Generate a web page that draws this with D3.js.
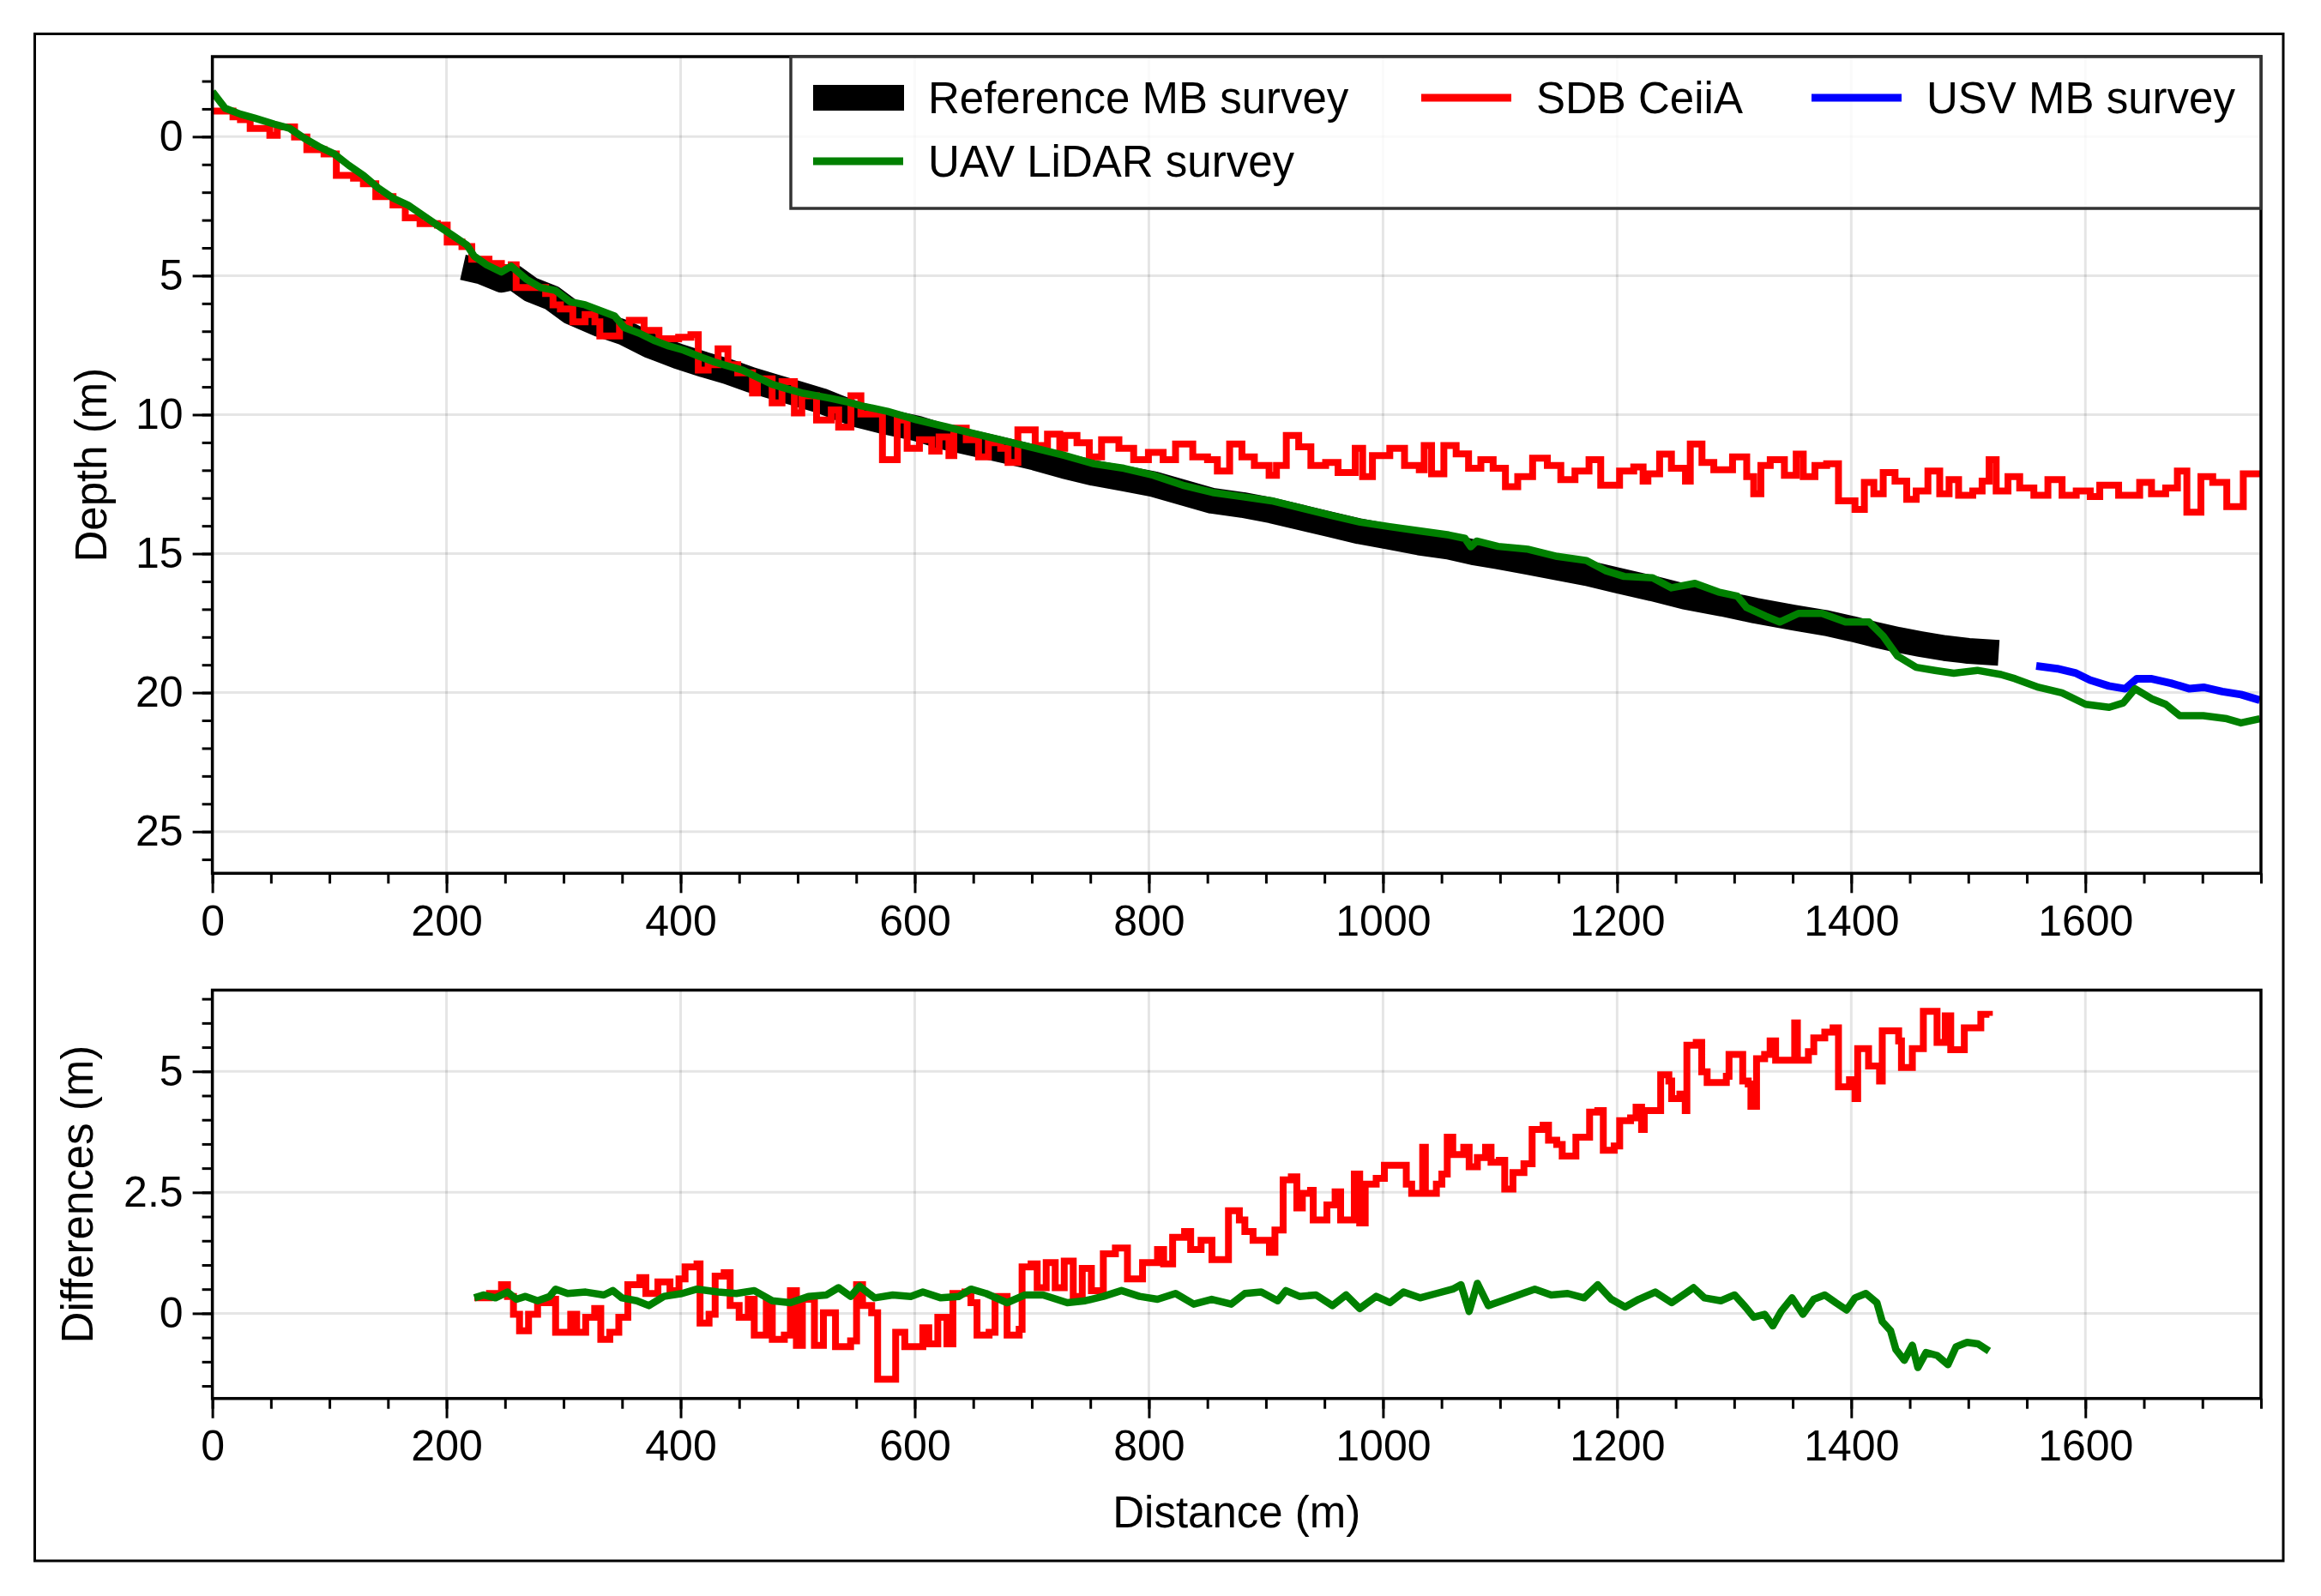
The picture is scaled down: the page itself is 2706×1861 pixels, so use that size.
<!DOCTYPE html>
<html>
<head>
<meta charset="utf-8">
<script src="https://cdn.jsdelivr.net/npm/d3@7"></script>
<style>
  body { margin: 0; background: #fff; }
  text { font-family: "Liberation Sans", Arial, Helvetica, sans-serif; fill: #000; }
  .tick line { stroke: #000; stroke-width: 3; }
  .tick text { font-size: 50px; }
</style>
</head>
<body>
<div id="chart"></div>
<script>
// Reference MB survey (black band)
var refDist = [214, 230, 247, 257, 272, 290, 306, 331, 352, 373, 398, 420, 440, 460, 480, 500, 520, 535, 551, 575,
  602, 625, 652, 678, 703, 728, 753, 779, 804, 829, 854, 880, 905, 930, 955, 980, 1006, 1031, 1056, 1077,
  1098, 1124, 1149, 1174, 1199, 1230, 1258, 1290, 1318, 1350, 1379, 1400, 1419, 1440, 1459, 1480, 1500, 1526];
var refDepth = [4.7, 4.85, 5.15, 5.05, 5.5, 5.8, 6.3, 6.75, 7.05, 7.5, 7.9, 8.2, 8.45, 8.75, 9.0, 9.25, 9.5, 9.75, 10.0, 10.25,
  10.5, 10.8, 11.05, 11.3, 11.55, 11.85, 12.1, 12.3, 12.5, 12.8, 13.1, 13.25, 13.45, 13.7, 13.95, 14.2, 14.4, 14.6, 14.75, 14.95,
  15.1, 15.3, 15.5, 15.7, 15.95, 16.25, 16.55, 16.8, 17.05, 17.3, 17.5, 17.7, 17.9, 18.1, 18.25, 18.4, 18.5, 18.57];

// SDB CeiiA (red, stepped)
var sdbDist = [0, 11.3, 17.6, 24, 32.3, 49.1, 55.4, 70.2, 80.7, 95.4, 105.9, 120.6, 129, 139.6, 154.3, 164.8, 177.4, 192.2, 200.6, 213.2,
  221.6, 236.3, 246.9, 255.3, 259.5, 284.7, 291, 297.3, 307.9, 318.4, 326.8, 331, 347.8, 356.2, 368.8, 381.5, 398.3, 408.8, 415.1, 423.5,
  432, 440.4, 448.8, 461.4, 465.6, 478.2, 486.6, 497.2, 503.5, 516.1, 528.7, 535, 545.5, 554, 572.4, 585, 593.5, 604, 614.5, 620.8,
  629.2, 633.4, 644, 654.5, 662.9, 673.4, 679.7, 688.1, 702.9, 713.4, 723.9, 728.1, 738.6, 749.1, 759.6, 774.4, 787, 799.6, 812.2, 822.8,
  837.5, 850.1, 858.5, 869, 879.5, 890.1, 902.7, 909, 917.4, 928, 938.4, 951, 961.6, 976.3, 982.6, 991, 1005.8, 1018.4, 1031, 1035.2,
  1041.5, 1052, 1062.5, 1073.1, 1083.6, 1094.1, 1104.6, 1115.1, 1127.8, 1140.4, 1151.9, 1164, 1176, 1186, 1202.1, 1214.2, 1222.2, 1226.3, 1236.3, 1246.4,
  1258.4, 1262.5, 1272.5, 1282.6, 1298.6, 1310.7, 1316.7, 1322.8, 1330.8, 1342.9, 1353, 1359, 1369, 1379, 1389.1, 1403.2, 1411.2, 1419.3, 1427.3, 1437.4,
  1447.4, 1455.5, 1465.5, 1475.6, 1483.6, 1491.7, 1503.8, 1511.8, 1517.8, 1523.8, 1533.9, 1543.9, 1556, 1568, 1580.1, 1592.2, 1604.2, 1612.3, 1628.4, 1646.4,
  1656.5, 1668.6, 1678.6, 1686.7, 1698.7, 1708.8, 1720.8, 1734.9, 1750];
var sdbDepth = [-0.92, -0.92, -0.71, -0.61, -0.3, -0.05, -0.35, 0.01, 0.47, 0.62, 1.39, 1.49, 1.69, 2.16, 2.46, 2.92, 3.13, 3.18, 3.79, 3.95,
  4.41, 4.56, 4.71, 4.61, 5.43, 5.64, 6.05, 6.2, 6.66, 6.4, 6.66, 7.17, 6.76, 6.61, 6.97, 7.27, 7.22, 7.12, 8.4, 8.2,
  7.63, 8.2, 8.5, 9.22, 8.71, 9.58, 8.81, 9.94, 9.32, 10.19, 9.83, 10.45, 9.32, 9.98, 11.62, 10.19, 11.21, 10.9, 11.31, 10.8,
  11.47, 10.49, 10.9, 11.52, 11.01, 11.21, 11.72, 10.55, 11.11, 10.7, 11.21, 10.75, 11.01, 11.52, 10.9, 11.21, 11.62, 11.36, 11.62, 11.06,
  11.52, 11.62, 12.03, 11.06, 11.52, 11.83, 12.18, 11.83, 10.75, 11.16, 11.83, 11.72, 12.08, 11.21, 12.23, 11.47, 11.21, 11.83, 11.98, 11.11,
  12.13, 11.11, 11.41, 11.93, 11.62, 11.93, 12.59, 12.23, 11.57, 11.83, 12.34, 12.03, 11.62, 12.54, 12.03, 11.88, 12.39, 12.13, 11.42, 11.93,
  12.39, 11.06, 11.72, 11.98, 11.52, 12.23, 12.85, 11.83, 11.62, 12.18, 11.42, 12.23, 11.83, 11.77, 13.1, 13.41, 12.44, 12.85, 12.08, 12.39,
  13.05, 12.75, 12.03, 12.85, 12.34, 12.9, 12.75, 12.39, 11.62, 12.75, 12.23, 12.64, 12.9, 12.34, 12.9, 12.75, 12.95, 12.54, 12.9, 12.44,
  12.85, 12.64, 12.03, 13.51, 12.23, 12.44, 13.31, 12.13, 12.18];

// USV MB survey (blue)
var usvDist = [1558, 1576, 1592, 1604, 1620, 1634, 1644, 1656, 1673, 1689, 1701, 1717, 1733, 1749];
var usvDepth = [19.04, 19.14, 19.3, 19.55, 19.76, 19.86, 19.5, 19.5, 19.66, 19.86, 19.81, 19.96, 20.07, 20.27];

// UAV LiDAR survey (green)
var uavDist = [0, 11, 24, 36.5, 53, 66, 78.6, 91, 104, 116.5, 129, 141.7, 154.3, 167, 179.5, 192, 204.8, 217.4, 223.7, 234.2,
  246.9, 255.3, 268, 280.5, 293, 305.7, 318.4, 331, 343.6, 352, 364.6, 377.3, 389.9, 402.5, 415, 427.7, 440.4, 453, 465.6, 478.2,
  490.9, 503.5, 516, 528.7, 541.3, 554, 576.6, 601.9, 627, 652.4, 677.6, 702.9, 728.1, 753.3, 778.6, 803.8, 829, 854.3, 879.5, 904.8,
  930, 955.3, 980.5, 1005.8, 1031, 1056.2, 1070, 1075, 1080, 1098.3, 1123.6, 1148.8, 1174, 1190, 1206, 1230.3, 1246.4, 1266.5, 1286.6, 1302.7,
  1310.7, 1326.8, 1338.9, 1354.9, 1375, 1395.1, 1415.2, 1427.3, 1439.4, 1455.5, 1471.5, 1487.6, 1507.7, 1527.9, 1540, 1560, 1580, 1600.2, 1620.3, 1632.4,
  1642.5, 1656.5, 1668.6, 1680.6, 1700.7, 1720.8, 1732.9, 1749];
var uavDepth = [-1.62, -1.02, -0.81, -0.66, -0.45, -0.3, 0.06, 0.36, 0.62, 1.03, 1.39, 1.85, 2.21, 2.46, 2.82, 3.18, 3.54, 3.9, 4.3, 4.61,
  4.87, 4.66, 5.12, 5.43, 5.53, 5.94, 6.05, 6.25, 6.45, 6.87, 7.07, 7.33, 7.53, 7.68, 7.89, 8.09, 8.25, 8.4, 8.66, 8.91,
  9.07, 9.22, 9.32, 9.42, 9.53, 9.68, 9.88, 10.19, 10.44, 10.7, 10.95, 11.21, 11.47, 11.77, 11.93, 12.18, 12.54, 12.8, 12.95, 13.1,
  13.36, 13.62, 13.87, 14.03, 14.18, 14.33, 14.45, 14.75, 14.55, 14.74, 14.84, 15.1, 15.25, 15.61, 15.82, 15.87, 16.23, 16.07, 16.38, 16.53,
  16.94, 17.25, 17.46, 17.15, 17.15, 17.46, 17.46, 17.97, 18.68, 19.09, 19.2, 19.3, 19.2, 19.35, 19.5, 19.81, 20.01, 20.42, 20.53, 20.37,
  19.86, 20.22, 20.42, 20.83, 20.83, 20.94, 21.09, 20.94];

// Differences: SDB (red, stepped)
var diffSdbDist = [223.8, 236.7, 247, 252.1, 257.2, 262.4, 270.1, 277.8, 288.1, 293.2, 306.1, 311.2, 318.9, 326.6, 331.8, 339.5, 347.2, 354.9, 365.2, 370.3,
  380.6, 390.9, 398.6, 403.8, 414, 416.6, 424.3, 429.5, 437.2, 442.3, 450, 457.8, 462.9, 473.2, 478.3, 488.6, 493.8, 498.9, 504, 514.3,
  522, 532.3, 545.2, 550.3, 555.4, 563.2, 568.3, 583.7, 591.5, 606.9, 612, 619.7, 627.5, 632.6, 642.9, 648, 653.2, 663.5, 668.6, 678.9,
  689.2, 691.7, 699.4, 704.6, 712.3, 720, 727.7, 735.4, 743.1, 750.9, 761.1, 771.4, 781.7, 794.6, 807.4, 812.6, 820.3, 830.5, 835.7, 844.6,
  853.9, 868, 877.3, 882, 889, 903, 907.7, 914.7, 921.7, 926.4, 931.1, 938.1, 940.4, 952.1, 959.1, 963.8, 975.5, 980.1, 984.8, 994.2,
  1001.2, 1019.9, 1024.5, 1033.9, 1036.2, 1045.6, 1050.3, 1054.9, 1059.6, 1069, 1073.6, 1080.6, 1087.6, 1092.3, 1099.4, 1104, 1111, 1120.4, 1127.4, 1136.8,
  1141.4, 1148.4, 1153.1, 1164.8, 1176.5, 1183.5, 1188.2, 1197.5, 1202.2, 1211.5, 1216.2, 1220.9, 1223.2, 1237.2, 1244.2, 1246.6, 1253.6, 1258.2, 1259.6, 1267.6,
  1272.3, 1276.9, 1293.3, 1295.6, 1307.3, 1312, 1314.3, 1319.1, 1326, 1330.7, 1335.4, 1351.7, 1354, 1363.4, 1368, 1377.4, 1384.5, 1389.1, 1398.5, 1403.2,
  1405.5, 1414.8, 1424.2, 1426.5, 1440.5, 1442.9, 1452.2, 1461.6, 1473.3, 1480.3, 1485, 1496.6, 1510.7, 1518];
var diffSdbVal = [0.32, 0.41, 0.59, 0.35, -0.02, -0.36, -0.02, 0.22, 0.29, -0.39, -0.02, -0.39, -0.08, 0.1, -0.54, -0.39, -0.08, 0.59, 0.74, 0.41,
  0.65, 0.47, 0.71, 0.96, 1.02, -0.2, -0.02, 0.77, 0.84, 0.16, -0.08, 0.29, -0.45, 0.22, -0.54, -0.45, 0.47, -0.66, 0.29, -0.66,
  0.01, -0.69, -0.57, 0.59, 0.16, 0.01, -1.36, -0.39, -0.69, -0.3, -0.63, -0.08, -0.63, 0.41, 0.44, 0.22, -0.45, -0.39, 0.35, -0.45,
  -0.33, 0.96, 1.02, 0.53, 1.05, 0.53, 1.08, 0.35, 0.93, 0.47, 1.23, 1.35, 0.71, 1.05, 1.32, 1.02, 1.57, 1.69, 1.32, 1.51,
  1.11, 2.12, 1.93, 1.69, 1.51, 1.26, 1.72, 2.76, 2.82, 2.18, 2.48, 2.54, 1.93, 2.24, 2.51, 1.93, 2.88, 1.87, 2.67, 2.79,
  3.06, 2.67, 2.48, 3.43, 2.48, 2.67, 2.88, 3.64, 3.28, 3.43, 3.03, 3.22, 3.43, 3.12, 3.16, 2.57, 2.91, 3.09, 3.8, 3.89,
  3.58, 3.49, 3.25, 3.64, 4.16, 4.19, 3.37, 3.46, 3.98, 4.04, 4.26, 3.8, 4.19, 4.93, 4.8, 4.44, 4.53, 4.19, 5.54, 5.6,
  4.99, 4.77, 4.9, 5.35, 4.8, 4.74, 4.28, 5.26, 5.35, 5.63, 5.23, 6.0, 5.23, 5.41, 5.69, 5.81, 5.9, 4.68, 4.83, 4.44,
  5.47, 5.11, 4.8, 5.84, 5.63, 5.08, 5.47, 6.24, 5.6, 6.15, 5.45, 5.9, 6.18, 6.15];

// Differences: UAV LiDAR (green)
var diffUavDist = [223.8, 231.5, 241.8, 252.1, 259.8, 267.5, 277.8, 288.1, 293.2, 303.5, 318.9, 334.4, 342.1, 349.8, 362.6, 372.9, 385.8, 401.2, 414, 432.1,
  447.5, 462.9, 478.3, 493.8, 509.2, 524.6, 534.9, 545.2, 552.9, 565.7, 581.2, 596.6, 606.9, 622.3, 637.7, 648, 660.9, 678.9, 694.3, 709.7,
  730.3, 745.7, 761.1, 776.6, 792, 807.4, 822.8, 838.3, 853.7, 870.3, 882, 896, 910, 917, 928.7, 942.8, 956.8, 968.5, 980.1, 994.2,
  1005.9, 1017.5, 1031.6, 1045.6, 1059.6, 1066.6, 1073.6, 1080.6, 1090, 1101.7, 1115.7, 1129.7, 1143.7, 1157.8, 1171.8, 1183.5, 1195.1, 1206.8, 1218.5, 1232.6,
  1246.6, 1258.2, 1265.3, 1274.6, 1288.6, 1300.3, 1309.7, 1316.7, 1326, 1333, 1340.1, 1349.4, 1358.7, 1368, 1377.4, 1386.8, 1396.1, 1403.2, 1412.5, 1421.9,
  1426.5, 1433.6, 1438.2, 1445.3, 1452.2, 1456.9, 1463.9, 1473.3, 1482.6, 1489.6, 1499, 1508.3, 1517.7];
var diffUavVal = [0.32, 0.38, 0.32, 0.44, 0.29, 0.35, 0.26, 0.35, 0.5, 0.41, 0.44, 0.38, 0.47, 0.32, 0.26, 0.16, 0.35, 0.41, 0.5, 0.44,
  0.41, 0.47, 0.26, 0.22, 0.35, 0.38, 0.53, 0.35, 0.56, 0.32, 0.38, 0.35, 0.44, 0.32, 0.35, 0.5, 0.41, 0.22, 0.38, 0.38,
  0.22, 0.26, 0.35, 0.47, 0.35, 0.29, 0.41, 0.19, 0.29, 0.19, 0.41, 0.44, 0.26, 0.47, 0.35, 0.38, 0.16, 0.38, 0.1, 0.35,
  0.22, 0.44, 0.32, 0.41, 0.5, 0.59, 0.04, 0.62, 0.16, 0.26, 0.38, 0.5, 0.38, 0.41, 0.32, 0.59, 0.29, 0.13, 0.29, 0.44,
  0.22, 0.41, 0.53, 0.32, 0.26, 0.38, 0.13, -0.08, -0.02, -0.26, 0.04, 0.32, -0.02, 0.29, 0.38, 0.22, 0.07, 0.32, 0.41, 0.22,
  -0.17, -0.36, -0.75, -0.97, -0.66, -1.12, -0.81, -0.87, -1.06, -0.69, -0.6, -0.63, -0.78];

// Ticks
var xTicks = [0, 200, 400, 600, 800, 1000, 1200, 1400, 1600];
var depthTicks = [0, 5, 10, 15, 20, 25];
var diffTicks = [0, 2.5, 5];
var diffTickLabels = ["0", "2.5", "5"];

// legend entries
var legendNames = ["Reference MB survey", "SDB CeiiA", "USV MB survey", "UAV LiDAR survey"];
var legendColors = ["#000000", "#ff0000", "#0000ff", "#008000"];

var svgWidth = 2706;
var svgHeight = 1861;

var svg = d3.select("#chart")
  .append("svg")
  .attr("width", svgWidth)
  .attr("height", svgHeight);

// outer figure frame
svg.append("rect")
  .attr("x", 40.5).attr("y", 39.5)
  .attr("width", 2621.5).attr("height", 1780.5)
  .attr("fill", "none").attr("stroke", "#000").attr("stroke-width", 3);

var plotLeft = 247.6, plotRight = 2636;
var top1 = 66, bottom1 = 1018.3;
var top2 = 1154.5, bottom2 = 1630.7;

var xScale = d3.scaleLinear().domain([0, 1750]).range([plotLeft, plotRight]);
var yDepth = d3.scaleLinear().domain([-2.88, 26.5]).range([top1, bottom1]);
var yDiff = d3.scaleLinear().domain([-1.76, 6.68]).range([bottom2, top2]);

function zip(xs, ys) {
  return xs.map(function (d, i) { return [d, ys[i]]; });
}

function drawPanel(yScale, top, bottom, yTicks, yMinor, yFormat, clipId) {
  var g = svg.append("g");

  // grid
  g.selectAll(null).data(xTicks).enter().append("line")
    .attr("x1", d => xScale(d)).attr("x2", d => xScale(d))
    .attr("y1", top).attr("y2", bottom)
    .attr("stroke", "#000").attr("stroke-opacity", 0.1).attr("stroke-width", 3);
  g.selectAll(null).data(yTicks).enter().append("line")
    .attr("x1", plotLeft).attr("x2", plotRight)
    .attr("y1", d => yScale(d)).attr("y2", d => yScale(d))
    .attr("stroke", "#000").attr("stroke-opacity", 0.1).attr("stroke-width", 3);

  // minor ticks
  g.append("g")
    .attr("transform", `translate(0, ${bottom})`)
    .call(d3.axisBottom(xScale).tickValues(d3.range(0, 1751, 50)).tickSize(12).tickFormat(""))
    .call(a => a.select(".domain").remove());
  g.append("g")
    .attr("transform", `translate(${plotLeft}, 0)`)
    .call(d3.axisLeft(yScale).tickValues(yMinor).tickSize(12).tickFormat(""))
    .call(a => a.select(".domain").remove());

  // major ticks
  g.append("g")
    .attr("transform", `translate(0, ${bottom})`)
    .call(d3.axisBottom(xScale).tickValues(xTicks).tickSize(23).tickPadding(14).tickFormat(d3.format("d")))
    .call(a => a.select(".domain").remove());
  g.append("g")
    .attr("transform", `translate(${plotLeft}, 0)`)
    .call(d3.axisLeft(yScale).tickValues(yTicks).tickSize(23).tickPadding(11).tickFormat(yFormat))
    .call(a => a.select(".domain").remove());

  svg.append("clipPath").attr("id", clipId)
    .append("rect")
    .attr("x", plotLeft).attr("y", top)
    .attr("width", plotRight - plotLeft).attr("height", bottom - top);

  return g;
}

function drawFrame(top, bottom) {
  svg.append("rect")
    .attr("x", plotLeft).attr("y", top)
    .attr("width", plotRight - plotLeft).attr("height", bottom - top)
    .attr("fill", "none").attr("stroke", "#000").attr("stroke-width", 3.5);
}

// ---------- top panel ----------
drawPanel(yDepth, top1, bottom1, depthTicks, d3.range(-2, 27, 1), d3.format("d"), "clipTop");

var lineTop = d3.line().x(d => xScale(d[0])).y(d => yDepth(d[1]));
var stepTop = d3.line().x(d => xScale(d[0])).y(d => yDepth(d[1])).curve(d3.curveStepAfter);

var topLines = svg.append("g").attr("clip-path", "url(#clipTop)");

topLines.append("path")
  .datum(zip(refDist, refDepth))
  .attr("d", lineTop)
  .attr("fill", "none").attr("stroke", "#000")
  .attr("stroke-width", 30).attr("stroke-linejoin", "round").attr("stroke-linecap", "butt");

topLines.append("path")
  .datum(zip(sdbDist, sdbDepth))
  .attr("d", stepTop)
  .attr("fill", "none").attr("stroke", "#ff0000").attr("stroke-width", 8);

topLines.append("path")
  .datum(zip(usvDist, usvDepth))
  .attr("d", lineTop)
  .attr("fill", "none").attr("stroke", "#0000ff").attr("stroke-width", 9).attr("stroke-linejoin", "round");

topLines.append("path")
  .datum(zip(uavDist, uavDepth))
  .attr("d", lineTop)
  .attr("fill", "none").attr("stroke", "#008000").attr("stroke-width", 8.5).attr("stroke-linejoin", "round");

drawFrame(top1, bottom1);

// legend
var legend = svg.append("g");
legend.append("rect")
  .attr("x", 922).attr("y", top1)
  .attr("width", plotRight - 922).attr("height", 177)
  .attr("fill", "#fff").attr("fill-opacity", 0.8)
  .attr("stroke", "#333").attr("stroke-width", 3.5);

var legendPos = [[948, 114], [1657, 114], [2112, 114], [948, 188]];
legendNames.forEach(function (name, i) {
  var p = legendPos[i];
  if (i === 0) {
    legend.append("rect")
      .attr("x", p[0]).attr("y", p[1] - 15).attr("width", 106).attr("height", 30)
      .attr("fill", legendColors[i]);
  } else {
    legend.append("line")
      .attr("x1", p[0]).attr("x2", p[0] + 105)
      .attr("y1", p[1]).attr("y2", p[1])
      .attr("stroke", legendColors[i]).attr("stroke-width", 9);
  }
  legend.append("text")
    .attr("x", p[0] + 134).attr("y", p[1])
    .attr("dy", "0.35em")
    .style("font-size", "51px")
    .text(name);
});

svg.append("text")
  .attr("transform", "translate(106, " + ((top1 + bottom1) / 2) + ") rotate(-90)")
  .attr("text-anchor", "middle").attr("dy", "0.35em")
  .style("font-size", "51px")
  .text("Depth (m)");

// ---------- bottom panel ----------
drawPanel(yDiff, top2, bottom2, diffTicks, d3.range(-1.5, 6.6, 0.5),
  function (d) { return diffTickLabels[diffTicks.indexOf(d)]; }, "clipBot");

var stepBot = d3.line().x(d => xScale(d[0])).y(d => yDiff(d[1])).curve(d3.curveStepAfter);
var lineBot = d3.line().x(d => xScale(d[0])).y(d => yDiff(d[1]));

var botLines = svg.append("g").attr("clip-path", "url(#clipBot)");

botLines.append("path")
  .datum(zip(diffSdbDist, diffSdbVal))
  .attr("d", stepBot)
  .attr("fill", "none").attr("stroke", "#ff0000").attr("stroke-width", 8);

botLines.append("path")
  .datum(zip(diffUavDist, diffUavVal))
  .attr("d", lineBot)
  .attr("fill", "none").attr("stroke", "#008000").attr("stroke-width", 8.5).attr("stroke-linejoin", "round");

drawFrame(top2, bottom2);

svg.append("text")
  .attr("transform", "translate(90, " + ((top2 + bottom2) / 2) + ") rotate(-90)")
  .attr("text-anchor", "middle").attr("dy", "0.35em")
  .style("font-size", "51px")
  .text("Differences (m)");

svg.append("text")
  .attr("x", (plotLeft + plotRight) / 2).attr("y", 1763)
  .attr("text-anchor", "middle").attr("dy", "0.35em")
  .style("font-size", "51px")
  .text("Distance (m)");
</script>
</body>
</html>
